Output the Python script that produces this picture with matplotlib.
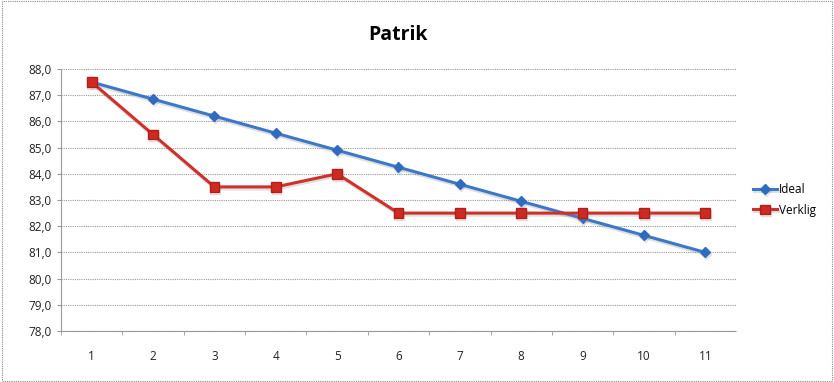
import matplotlib
matplotlib.use("Agg")
import matplotlib.pyplot as plt
import matplotlib.patheffects as pe
from matplotlib.patches import Rectangle

plt.rcParams["font.family"] = ["Open Sans", "DejaVu Sans"]

sprints = [1, 2, 3, 4, 5, 6, 7, 8, 9, 10, 11]
ideal = [87.5, 86.85, 86.2, 85.55, 84.9, 84.25, 83.6, 82.95, 82.3, 81.65, 81.0]
verklig = [87.5, 85.5, 83.5, 83.5, 84.0, 82.5, 82.5, 82.5, 82.5, 82.5, 82.5]
y_ticks = [78.0, 79.0, 80.0, 81.0, 82.0, 83.0, 84.0, 85.0, 86.0, 87.0, 88.0]

fig = plt.figure(figsize=(8.34, 3.82), dpi=100)
ax = fig.add_axes([0.0731, 0.1335, 0.8094, 0.6859])

shadow = [pe.SimpleLineShadow(offset=(0.5, -1.5), shadow_color="gray", alpha=0.25), pe.Normal()]
ax.plot(sprints, ideal, color="#3C78C8", lw=2.2, marker="D", ms=5,
        mfc="#2F6CC0", mec="#2F6CC0", label="Ideal", path_effects=shadow, zorder=3)
ax.plot(sprints, verklig, color="#D0302A", lw=2.2, marker="s", ms=7,
        mfc="#CC2A22", mec="#B02018", label="Verklig", path_effects=shadow, zorder=4)

ax.set_xlim(0.5, 11.5)
ax.set_ylim(78, 88)
ax.set_yticks(y_ticks)
ax.set_yticklabels([f"{v:.1f}".replace(".", ",") for v in y_ticks])
ax.set_xticks(sprints)
ax.set_xticks([x + 0.5 for x in range(0, 11)], minor=True)
ax.tick_params(axis="x", which="major", length=0, pad=14, labelsize=8.5, colors="#222222")
ax.tick_params(axis="x", which="minor", length=3, color="#999999")
ax.tick_params(axis="y", length=3, color="#999999", labelsize=8.5, labelcolor="#222222")
ax.grid(axis="y", color="#999999", linestyle=(0, (1, 1)), lw=0.8)
for side in ["top", "right"]:
    ax.spines[side].set_visible(False)
for side in ["left", "bottom"]:
    ax.spines[side].set_color("#999999")
    ax.spines[side].set_linestyle((0, (1, 1)))

ax.set_title("Patrik", fontsize=14, fontweight="bold", pad=21)
ax.legend(loc="center left", bbox_to_anchor=(1.01, 0.5), frameon=False,
          fontsize=8.5, handlelength=2.0, handletextpad=0.2, labelspacing=0.6)

fig.patches.append(Rectangle((0.002, 0.003), 0.996, 0.994, transform=fig.transFigure,
                             fill=False, ec="#888888", lw=0.8, linestyle=(0, (1, 1))))
fig.savefig("out.png", dpi=100)
